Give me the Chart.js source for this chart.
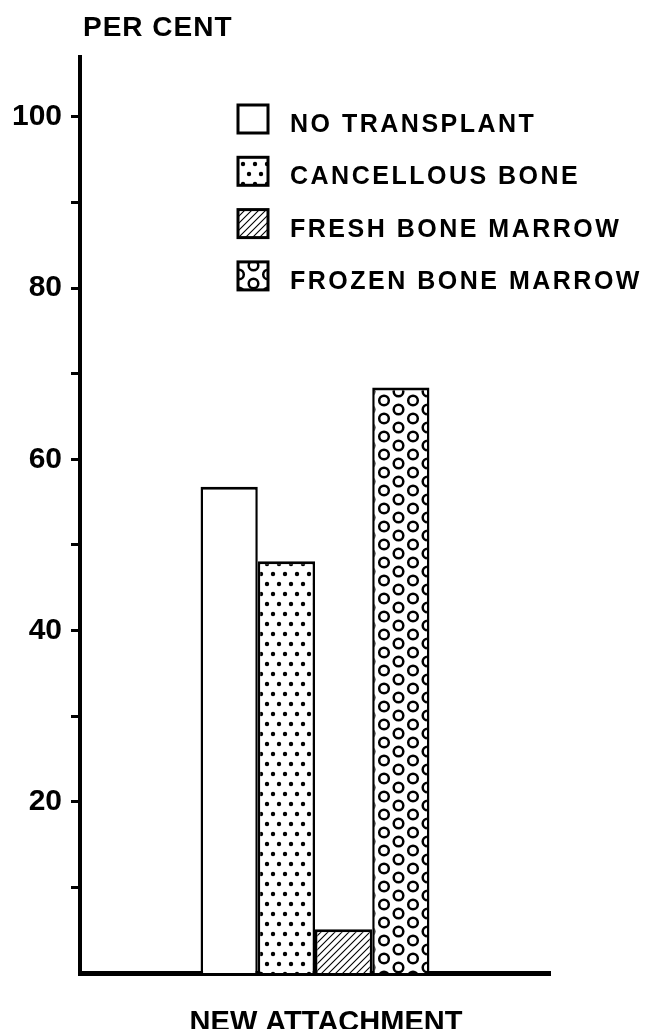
<!DOCTYPE html>
<html lang="en">
  <head>
    <meta charset="UTF-8" />
    <title>New Attachment</title>
    <script src="https://cdn.jsdelivr.net/npm/chart.js"></script>
    <style>
      body {
        margin: 0;
        background-color: #ffffff;
      }
      #chart {
        display: block;
      }
    </style>
  </head>
  <body>
    <canvas id="chart" width="652" height="1029"></canvas>

    <script>
      const categories = ['NEW ATTACHMENT'];
      const seriesNames = [
        'NO TRANSPLANT',
        'CANCELLOUS BONE',
        'FRESH BONE MARROW',
        'FROZEN BONE MARROW',
      ];
      const noTransplant = [56.8];
      const cancellousBone = [48.1];
      const freshBoneMarrow = [5.1];
      const frozenBoneMarrow = [68.4];
      const yTickValues = [10, 20, 30, 40, 50, 60, 70, 80, 90, 100];
      const yTickLabels = ['', '20', '', '40', '', '60', '', '80', '', '100'];
      const yAxisTitle = 'PER CENT';

      const FONT = '"Liberation Sans", Arial, sans-serif';

      // build the fill patterns
      function makePattern(w, h, draw) {
        const c = document.createElement('canvas');
        c.width = w;
        c.height = h;
        const g = c.getContext('2d');
        g.fillStyle = '#fff';
        g.fillRect(0, 0, w, h);
        g.fillStyle = '#000';
        g.strokeStyle = '#000';
        draw(g);
        return document
          .getElementById('chart')
          .getContext('2d')
          .createPattern(c, 'repeat');
      }

      const dotPattern = makePattern(12, 20, (g) => {
        const pts = [
          [3, 4],
          [9, 14],
          [-3, 14],
          [15, 14],
        ];
        pts.forEach(([x, y]) => {
          g.beginPath();
          g.arc(x, y, 2.2, 0, Math.PI * 2);
          g.fill();
        });
      });

      const hatchPattern = makePattern(7, 7, (g) => {
        g.lineWidth = 1.1;
        g.beginPath();
        g.moveTo(-1, 8);
        g.lineTo(8, -1);
        g.moveTo(-4, 4);
        g.lineTo(4, -4);
        g.moveTo(3, 11);
        g.lineTo(11, 3);
        g.stroke();
      });

      const circlePattern = makePattern(29, 18, (g) => {
        g.lineWidth = 2.5;
        const pts = [
          [7, 4.5],
          [21.5, 13.5],
          [-7.5, 13.5],
          [36.5, 13.5],
          [21.5, -4.5],
          [7, 22.5],
          [-7.5, -4.5],
          [36.5, -4.5],
        ];
        pts.forEach(([x, y]) => {
          g.beginPath();
          g.arc(x, y, 4.8, 0, Math.PI * 2);
          g.stroke();
        });
      });

      const fills = ['#ffffff', dotPattern, hatchPattern, circlePattern];
      const seriesData = [
        noTransplant,
        cancellousBone,
        freshBoneMarrow,
        frozenBoneMarrow,
      ];

      const datasets = seriesNames.map((name, i) => ({
        label: name,
        data: seriesData[i],
        backgroundColor: fills[i],
        borderColor: '#000',
        borderWidth: { top: 3, left: 2.5, right: 2.5, bottom: 0 },
        borderSkipped: 'start',
        categoryPercentage: 0.487,
        barPercentage: 1.0,
      }));

      // y axis title and the boxed legend
      const extrasPlugin = {
        id: 'extras',
        afterDraw(chart) {
          const ctx = chart.ctx;
          ctx.save();
          ctx.fillStyle = '#000';
          ctx.textAlign = 'left';
          ctx.textBaseline = 'alphabetic';
          ctx.font = 'bold 28px ' + FONT;
          ctx.letterSpacing = '1px';
          ctx.fillText(yAxisTitle, 83, 36);

          ctx.font = 'bold 25px ' + FONT;
          ctx.letterSpacing = '2.5px';
          seriesNames.forEach((name, i) => {
            const y = 105 + i * 52.3;
            ctx.fillStyle = fills[i];
            ctx.fillRect(238, y, 30, 28);
            ctx.lineWidth = 3;
            ctx.strokeStyle = '#000';
            ctx.strokeRect(238, y, 30, 28);
            ctx.fillStyle = '#000';
            ctx.fillText(name, 290, y + 27);
          });
          ctx.restore();
        },
      };

      const ctx = document.getElementById('chart').getContext('2d');
      new Chart(ctx, {
        type: 'bar',
        data: {
          labels: categories,
          datasets: datasets,
        },
        plugins: [extrasPlugin],
        options: {
          responsive: false,
          animation: false,
          devicePixelRatio: 1,
          layout: {
            padding: { top: 57, right: 102, left: 0, bottom: 0 },
          },
          plugins: {
            legend: { display: false },
            tooltip: { enabled: false },
          },
          scales: {
            x: {
              grid: { display: false },
              border: { display: true, color: '#000', width: 5 },
              ticks: {
                color: '#000',
                padding: 25,
                labelOffset: 11,
                font: { family: FONT, size: 29, weight: 'bold' },
              },
              afterFit(scale) {
                scale.height = 56;
              },
            },
            y: {
              min: 0,
              max: 107,
              afterBuildTicks(scale) {
                scale.ticks = yTickValues.map((v) => ({ value: v }));
              },
              grid: {
                drawOnChartArea: false,
                drawTicks: true,
                tickLength: 9,
                tickWidth: 3,
                tickColor: '#000',
              },
              border: { display: true, color: '#000', width: 4 },
              ticks: {
                color: '#000',
                padding: 9,
                font: { family: FONT, size: 30, weight: 'bold' },
                callback: function (value, index) {
                  return yTickLabels[index];
                },
              },
              afterFit(scale) {
                scale.width = 80;
              },
            },
          },
        },
      });
    </script>
  </body>
</html>
